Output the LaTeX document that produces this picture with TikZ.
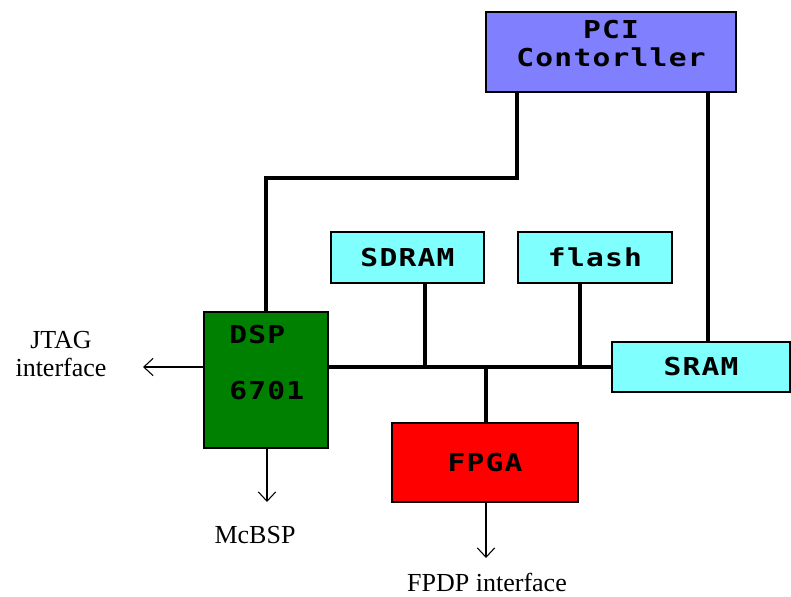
\documentclass[tikz,border=0pt]{standalone}
\usepackage{fontspec}
\setmainfont{Liberation Serif}
\newfontfamily\boxfont[FakeStretch=1.2,LetterSpace=5]{DejaVu Sans Mono Bold}
\usetikzlibrary{arrows.meta}
\definecolor{pciblue}{HTML}{8080FF}
\definecolor{memcyan}{HTML}{80FFFF}
\definecolor{dspgreen}{HTML}{008000}
\definecolor{fpgared}{HTML}{FF0000}
\begin{document}
\begin{tikzpicture}[x=0.75pt,y=-0.75pt,
  block/.style={draw=black,line width=1.1pt,inner sep=0pt,
    font=\boxfont\fontsize{18.5}{21}\selectfont},
  blocktext/.style={inner sep=0pt,font=\boxfont\fontsize{18.5}{21}\selectfont},
  busline/.style={line width=2.4pt},
  mainbus/.style={line width=3.4pt},
  sigline/.style={line width=0.8pt,-{Straight Barb[length=7pt,width=13pt,line width=0.8pt]}},
  lbl/.style={inner sep=0pt,font=\fontsize{19.5}{20.3}\selectfont}]
\useasboundingbox (0,0) rectangle (791,596);

% blocks
\node[block,fill=pciblue,minimum width=187.5pt,minimum height=60pt] (pci) at (611,52) {};
\node[blocktext,align=center] (pcitext) at (611,44) {PCI\\Contorller};
\node[block,fill=memcyan,minimum width=114.75pt,minimum height=38.25pt]
  (sdram) at (407.5,257.5) {SDRAM};
\node[block,fill=memcyan,minimum width=115.5pt,minimum height=38.25pt]
  (flash) at (595,257.5) {flash};
\node[block,fill=memcyan,minimum width=133.5pt,minimum height=37.5pt]
  (sram) at (701,367) {SRAM};
\node[block,fill=dspgreen,minimum width=93pt,minimum height=102pt]
  (dsp) at (266,380) {};
\node[blocktext,anchor=west] (dsptop) at (229,335) {DSP};
\node[blocktext,anchor=west] (dspnum) at (229,391) {6701};
\node[block,fill=fpgared,minimum width=139.5pt,minimum height=59.25pt]
  (fpga) at (485,462.5) {FPGA};

% external interface labels
\node[lbl,align=center] (jtag) at (61,354) {JTAG\\interface};
\node[lbl,anchor=base] (mcbsp) at (255,543) {McBSP};
\node[lbl,anchor=base] (fpdp) at (487,591) {FPDP interface};
\coordinate (jtagtip) at (143,367);
\coordinate (mcbsptip) at (267,502);
\coordinate (fpdptip) at (486,558);

% PCI connections
\draw[busline] (pci.south -| 517,0) -- (517,178) -- (dsp.north |- 0,178) -- (dsp.north);
\draw[busline] (pci.south -| 708,0) -- (sram.north -| 708,0);

% local bus
\draw[mainbus] (dsp.east |- sram.west) -- (sram.west);
\draw[busline] (sdram.south -| 425,0) -- (425,367);
\draw[busline] (flash.south -| 580,0) -- (580,367);
\draw[busline] (fpga.north -| 486,0) -- (486,367);

% outgoing signals
\draw[sigline] (dsp.west |- jtagtip) -- (jtagtip);
\draw[sigline] (dsp.south -| mcbsptip) -- (mcbsptip);
\draw[sigline] (fpga.south -| fpdptip) -- (fpdptip);
\end{tikzpicture}
\end{document}
